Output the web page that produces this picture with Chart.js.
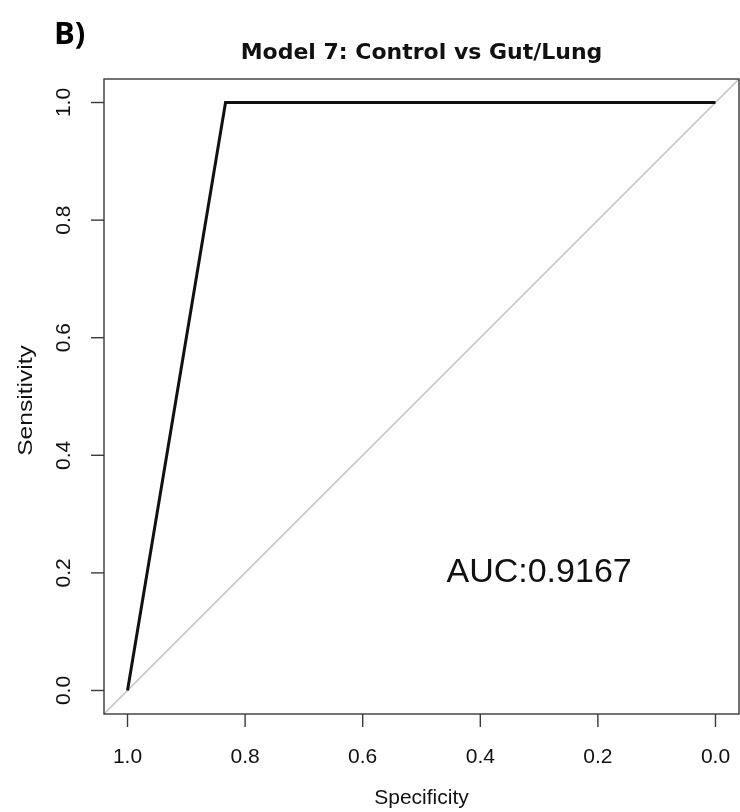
<!DOCTYPE html>
<html>
<head>
    <title>Model 7 ROC</title>
    <script src="https://cdn.jsdelivr.net/npm/chart.js"></script>
    <style>
        body { margin: 0; background: #fff; }
        canvas { display: block; }
    </style>
</head>
<body>
    <canvas id="rocChart" width="740" height="812"></canvas>
    <script>
        // ROC curve points (specificity, sensitivity)
        const specificity = [1.0, 0.8333, 0.0];
        const sensitivity = [0.0, 1.0, 1.0];
        // chance line, corner to corner of the plot region
        const chanceSpec = [1.04, -0.04];
        const chanceSens = [-0.04, 1.04];
        const xTicks = [1.0, 0.8, 0.6, 0.4, 0.2, 0.0];
        const yTicks = [0.0, 0.2, 0.4, 0.6, 0.8, 1.0];
        const aucText = 'AUC:0.9167';
        const aucPos = [0.3, 0.2];

        const toPoints = (xs, ys) => xs.map((v, i) => ({ x: v, y: ys[i] }));

        // R-style box, ticks and text
        const rFrame = {
            id: 'rFrame',
            afterDraw(chart) {
                const ctx = chart.ctx;
                const a = chart.chartArea;
                const xs = chart.scales.x;
                const ys = chart.scales.y;
                ctx.save();
                ctx.strokeStyle = '#3a3a3a';
                ctx.lineWidth = 1.4;
                ctx.strokeRect(a.left, a.top, a.right - a.left, a.bottom - a.top);

                ctx.fillStyle = '#111';
                ctx.font = '21px "Liberation Sans", Arial, sans-serif';
                ctx.textAlign = 'center';
                ctx.textBaseline = 'middle';
                xTicks.forEach(v => {
                    const px = xs.getPixelForValue(v);
                    ctx.beginPath();
                    ctx.moveTo(px, a.bottom);
                    ctx.lineTo(px, a.bottom + 13);
                    ctx.stroke();
                    ctx.fillText(v.toFixed(1), px, 757);
                });
                yTicks.forEach(v => {
                    const py = ys.getPixelForValue(v);
                    ctx.beginPath();
                    ctx.moveTo(a.left - 13, py);
                    ctx.lineTo(a.left, py);
                    ctx.stroke();
                    ctx.save();
                    ctx.translate(64, py);
                    ctx.rotate(-Math.PI / 2);
                    ctx.fillText(v.toFixed(1), 0, 0);
                    ctx.restore();
                });

                ctx.fillText('Specificity', (a.left + a.right) / 2, 798);
                ctx.save();
                ctx.translate(26, (a.top + a.bottom) / 2 + 4);
                ctx.rotate(-Math.PI / 2);
                ctx.scale(1.17, 1);
                ctx.fillText('Sensitivity', 0, 0);
                ctx.restore();

                ctx.font = '34px "Liberation Sans", Arial, sans-serif';
                ctx.fillText(aucText, xs.getPixelForValue(aucPos[0]), ys.getPixelForValue(aucPos[1]));

                ctx.font = 'bold 22px "DejaVu Sans", sans-serif';
                ctx.textBaseline = 'alphabetic';
                ctx.fillText('Model 7: Control vs Gut/Lung', (a.left + a.right) / 2, 59);

                ctx.font = 'bold 31px "Open Sans", sans-serif';
                ctx.textAlign = 'left';
                ctx.fillStyle = '#000';
                ctx.fillText('B)', 54, 44);
                ctx.restore();
            }
        };

        new Chart(document.getElementById('rocChart').getContext('2d'), {
            type: 'line',
            data: {
                datasets: [
                    {
                        data: toPoints(chanceSpec, chanceSens),
                        borderColor: '#bdbdbd',
                        borderWidth: 1.3,
                        pointRadius: 0,
                        tension: 0,
                        order: 2
                    },
                    {
                        data: toPoints(specificity, sensitivity),
                        borderColor: '#111',
                        borderWidth: 3,
                        pointRadius: 0,
                        tension: 0,
                        order: 1
                    }
                ]
            },
            options: {
                responsive: false,
                animation: false,
                layout: { padding: { left: 104, top: 79, right: 1, bottom: 98 } },
                plugins: {
                    legend: { display: false },
                    tooltip: { enabled: false }
                },
                scales: {
                    x: { type: 'linear', reverse: true, min: -0.04, max: 1.04, display: false },
                    y: { type: 'linear', min: -0.04, max: 1.04, display: false }
                }
            },
            plugins: [rFrame]
        });
    </script>
</body>
</html>
